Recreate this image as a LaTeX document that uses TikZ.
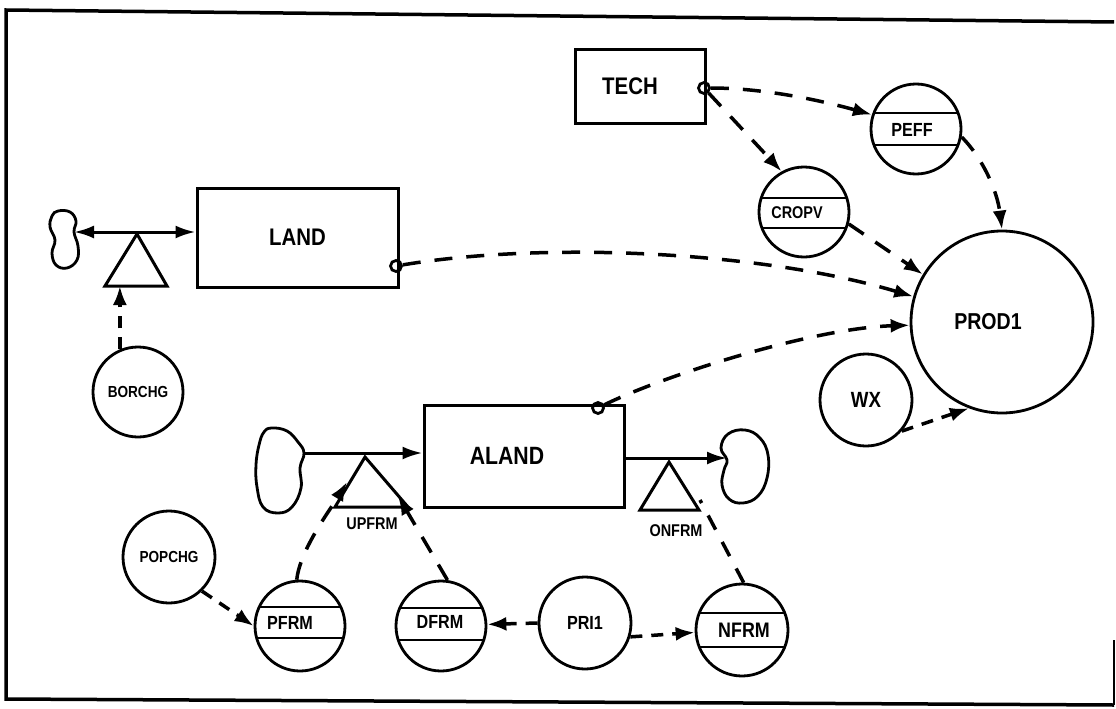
\documentclass[tikz,border=0pt]{standalone}
\usepackage{fontspec}
\setmainfont{Liberation Sans}
\newfontfamily\handfont[FakeStretch=0.85]{Liberation Sans}
\usetikzlibrary{arrows.meta,calc}
\newcommand\fsz[1]{\handfont\fontsize{#1pt}{#1pt}\selectfont\bfseries}
\begin{document}
\begin{tikzpicture}[x=1pt,y=-1pt,
  box/.style={draw,rectangle,line width=3pt,inner sep=0pt},
  var/.style={draw,circle,line width=2.8pt,inner sep=0pt},
  tap/.style={draw,circle,line width=2.8pt,minimum size=11pt,inner sep=0pt},
  dep/.style={line width=3.5pt,dash pattern=on 18pt off 14pt,-{Latex[length=19pt,width=14pt]}},
  sdep/.style={line width=3.5pt,dash pattern=on 12pt off 9pt,-{Latex[length=19pt,width=14pt]}},
  depn/.style={line width=3.5pt,dash pattern=on 16pt off 14pt},
  flow/.style={line width=3pt},
  flowtip/.style={-{Latex[length=20pt,width=13pt]}},
  valve/.style={draw,line width=3pt,line join=miter},
  cloudline/.style={draw,line width=2.8pt},
  band/.style={line width=2.8pt},
  lbl/.style={inner sep=0pt},
]
\useasboundingbox (0,0) rectangle (1116,709);
% frame
\draw[line width=3.5pt] (1114,22) -- (6,10) -- (6,699) -- (1114,705);
\draw[line width=1.5pt] (1114,705) -- (1114,640);

% stocks
\node[box,minimum width=130pt,minimum height=73pt,font=\fsz{24}] (tech) at (640,86.5) {\hspace*{-20pt}TECH};
\node[tap] (ttap) at (704,88) {};
\node[box,minimum width=201pt,minimum height=99pt,font=\fsz{24}] (land) at (297.5,237.5) {LAND};
\node[tap] (ltap) at (396,266) {};
\node[box,minimum width=200pt,minimum height=102pt,font=\fsz{25}] (aland) at (524,456) {\hspace*{-34pt}ALAND};
\node[tap] (atap) at (598,408) {};

% circles
\node[var,minimum size=90pt] (peff) at (916,129) {};
\node[var,minimum size=90pt] (cropv) at (804,212) {};
\node[var,minimum size=182pt,font=\fsz{23}] (prod1) at (1002,322) {\hspace*{-28pt}PROD1};
\node[var,minimum size=92pt,font=\fsz{22}] (wx) at (866,400) {WX};
\node[var,minimum size=90pt,font=\fsz{16}] (borchg) at (138,392) {BORCHG};
\node[var,minimum size=92pt,font=\fsz{16}] (popchg) at (169,557) {POPCHG};
\node[var,minimum size=90pt] (pfrm) at (300,626) {};
\node[var,minimum size=90pt] (dfrm) at (441,626) {};
\node[var,minimum size=92pt,font=\fsz{19}] (pri1) at (585,623) {PRI1};
\node[var,minimum size=92pt] (nfrm) at (742,630) {};

\foreach \n/\rr/\a/\b in {peff/45/-16/16, cropv/45/-14/16, pfrm/45/-19/12, dfrm/45/-18/14, nfrm/46/-17/17} {
  \begin{scope}
    \clip (\n.center) circle (\rr);
    \draw[band] ($(\n.center)+(-50,\a)$) -- ++(100,0);
    \draw[band] ($(\n.center)+(-50,\b)$) -- ++(100,0);
  \end{scope}
}
\node[lbl,font=\fsz{19}] (peffl) at (912,130) {PEFF};
\node[lbl,font=\fsz{17}] (cropvl) at (797,213) {CROPV};
\node[lbl,font=\fsz{19}] (pfrml) at (290,623) {PFRM};
\node[lbl,font=\fsz{19}] (dfrml) at (440,622) {DFRM};
\node[lbl,font=\fsz{21}] (nfrml) at (744,630) {NFRM};

% valves
\coordinate (lva) at (137,234); \coordinate (lvl) at (105,286); \coordinate (lvr) at (167,286);
\draw[valve] (lva) -- (lvl) -- (lvr) -- cycle;
\coordinate (uva) at (365,457); \coordinate (uvl) at (335,507); \coordinate (uvr) at (408,507);
\draw[valve] (uva) -- (uvl) -- (uvr) -- cycle;
\coordinate (dva) at (669,462); \coordinate (dvl) at (640,510); \coordinate (dvr) at (699,510);
\draw[valve] (dva) -- (dvl) -- (dvr) -- cycle;
\node[lbl,font=\fsz{17}] (upfrml) at (372,524) {UPFRM};
\node[lbl,font=\fsz{17}] (dnfrml) at (676,531) {ONFRM};

% clouds
\draw[cloudline] plot[smooth cycle,tension=0.7] coordinates {(58,211) (70,212) (76,221) (74,232) (78,246) (77,260) (67,268) (56,265) (52,253) (55,240) (50,227) (52,216)};
\draw[cloudline] plot[smooth cycle,tension=0.7] coordinates {(272,428) (287,431) (298,442) (304,453) (300,468) (301,488) (292,507) (278,513) (263,507) (257,487) (256,465) (259,445) (264,432)};
\draw[cloudline] plot[smooth cycle,tension=0.7] coordinates {(728,434) (745,430) (760,438) (768,455) (767,478) (758,496) (743,503) (729,499) (722,485) (724,470) (727,460) (721,448)};
\coordinate (lcl) at (74,232);
\coordinate (acl) at (304,453);
\coordinate (acr) at (727,458);

% flows
\draw[flow,{Latex[length=20pt,width=13pt]}-{Latex[length=20pt,width=13pt]}] (lcl) -- (lcl -| land.west);
\draw[flow,flowtip] (acl) -- (acl -| aland.west);
\draw[flow,flowtip] (aland.east |- acr) -- (acr);

% dependencies
\draw[dep] (ttap) .. controls +(60,0) and +(-50,-14) .. (peff.162);
\draw[dep] (ttap) -- (cropv.119);
\draw[dep] (peff.-10) .. controls +(20,20) and +(-5,-40) .. (prod1.90);
\draw[dep] (cropv.-15) -- (prod1.149);
\draw[dep] (ltap) .. controls +(150,-25) and +(-150,-45) .. (prod1.164);
\draw[dep] (atap) .. controls +(60,-30) and +(-100,3) .. (prod1.182);
\draw[sdep] (wx.-41) -- (prod1.249);
\draw[sdep] (borchg.113) -- (borchg.113 |- lvl);
\coordinate (uin) at (347,482);
\coordinate (uin2) at (398,496);
\coordinate (din) at (700,500);
\draw[dep] (pfrm.94) .. controls +(3,-30) and +(-15,25) .. (uin);
\draw[dep] (dfrm.82) -- (uin2);
\draw[depn] (nfrm.88) -- (din);
\draw[sdep] (pri1.180) -- (dfrm.2);
\draw[sdep] (pri1.-17) -- (nfrm.183);
\draw[sdep] (popchg.-46) -- (pfrm.180);
\end{tikzpicture}
\end{document}
